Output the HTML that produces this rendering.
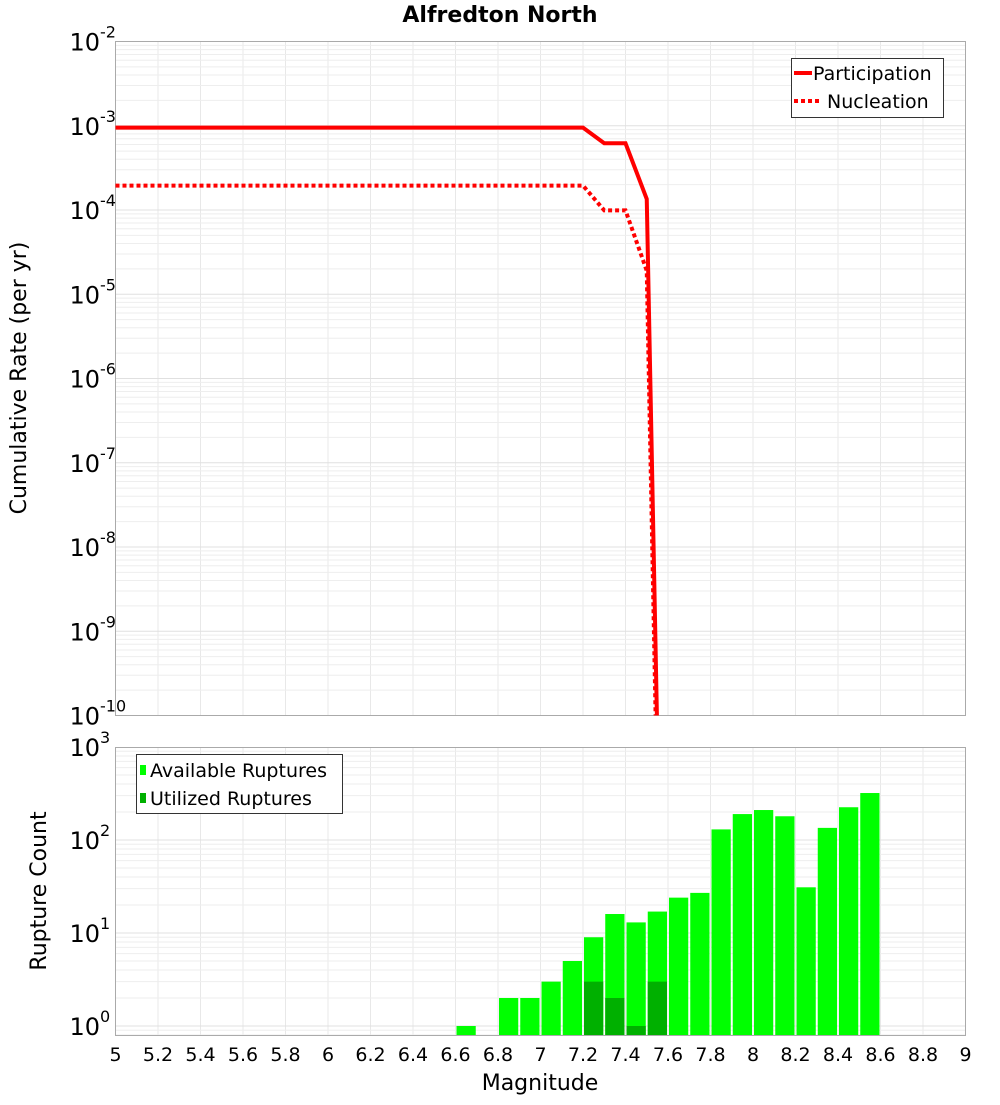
<!DOCTYPE html>
<html><head><meta charset="utf-8"><style>
body{margin:0;background:#fff;width:1000px;height:1100px;overflow:hidden}
svg{font-family:"DejaVu Sans","Liberation Sans",sans-serif}
</style></head><body>
<svg id="chart" width="1000" height="1100" xmlns="http://www.w3.org/2000/svg">
<text x="500" y="22" text-anchor="middle" font-size="22" font-weight="bold">Alfredton North</text>
<text transform="translate(26,378) rotate(-90)" text-anchor="middle" font-size="22">Cumulative Rate (per yr)</text>
<text transform="translate(46,891) rotate(-90)" text-anchor="middle" font-size="22">Rupture Count</text>
<text x="540" y="1090" text-anchor="middle" font-size="22">Magnitude</text>
<g id="topg"></g><g id="botg"></g>
</svg>
<script>
const xTicks=[5,5.2,5.4,5.6,5.8,6,6.2,6.4,6.6,6.8,7,7.2,7.4,7.6,7.8,8,8.2,8.4,8.6,8.8,9];
const partMag=[5.0,7.2,7.3,7.4,7.5,7.6];
const partRate=[9.5e-4,9.5e-4,6.2e-4,6.2e-4,1.35e-4,2e-17];
const nuclMag=[5.0,7.2,7.3,7.4,7.5,7.6];
const nuclRate=[1.95e-4,1.95e-4,9.9e-5,9.9e-5,1.9e-5,4e-18];
const barMag=[6.6,6.8,6.9,7.0,7.1,7.2,7.3,7.4,7.5,7.6,7.7,7.8,7.9,8.0,8.1,8.2,8.3,8.4,8.5];
const availCount=[1,2,2,3,5,9,16,13,17,24,27,130,190,210,180,31,135,225,320];
const usedMag=[7.2,7.3,7.4,7.5];
const usedCount=[3,2,1,3];
const topDecades=[-10,-9,-8,-7,-6,-5,-4,-3,-2];
const botDecades=[0,1,2,3];

const NS='http://www.w3.org/2000/svg';
const X0=115.5,X1=965.5;
const xs=m=>X0+(m-5)/4*(X1-X0);
const tyTop=41.5,tyBot=715.5;
const ty=v=>tyTop+(-2-Math.log10(v))*(tyBot-tyTop)/8;
const byTop=747.5,byBot=1035.5;
const by=v=>1026-Math.log10(v)*93;
function el(p,t,a){const e=document.createElementNS(NS,t);for(const k in a)e.setAttribute(k,a[k]);p.appendChild(e);return e;}
const topG=document.getElementById('topg'),botG=document.getElementById('botg');

function grid(g,yT,yB,decs,yf,lo){
  for(const x of xTicks){const l=el(g,'line',{x1:xs(x),x2:xs(x),y1:yT,y2:yB,stroke:'#e8e8e8'});
  
  }
  for(let i=0;i<decs.length;i++){const d=decs[i];
    for(let k=1;k<10;k++){const y=yf(k*Math.pow(10,d));if(y<yT-0.5||y>yB+0.5)continue;
      const l=el(g,'line',{x1:X0,x2:X1,y1:y,y2:y,stroke:k==1?'#e0e0e0':'#eeeeee'});
      
      }
  }
}
function ylabel(g,d,y){
  const t=el(g,'text',{x:100,y:y+9,'text-anchor':'end','font-size':24});
  
  
  t.textContent='10';
  const s=el(g,'text',{x:100,y:y-4,'font-size':16});
  
  
  s.textContent=String(d);
}
// top plot
grid(topG,tyTop,tyBot,topDecades,ty,-10);
let r=el(topG,'rect',{x:X0,y:tyTop,width:X1-X0,height:tyBot-tyTop,fill:'none',stroke:'#aaa'});


for(const d of topDecades)ylabel(topG,d,ty(Math.pow(10,d)));
const cp=el(topG,'clipPath',{id:'cp'});el(cp,'rect',{x:X0,y:tyTop,width:X1-X0,height:tyBot-tyTop});
const pp=partMag.map((m,i)=>xs(m)+','+ty(partRate[i])).join(' ');
const pl=el(topG,'polyline',{points:pp,fill:'none',stroke:'#ff0000','stroke-width':4,'clip-path':'url(#cp)'});


const np=nuclMag.map((m,i)=>xs(m)+','+ty(nuclRate[i])).join(' ');
const nl=el(topG,'polyline',{points:np,fill:'none',stroke:'#ff0000','stroke-width':4,'stroke-dasharray':'4 3','clip-path':'url(#cp)'});


// top legend
const lg=el(topG,'g',{});


el(lg,'rect',{x:791.5,y:58.5,width:152,height:59,fill:'#fff',stroke:'#333'});
el(lg,'line',{x1:794,x2:812,y1:73,y2:73,stroke:'#f00','stroke-width':4});
el(lg,'line',{x1:794,x2:822,y1:101,y2:101,stroke:'#f00','stroke-width':4,'stroke-dasharray':'4 3'});
let t1=el(lg,'text',{x:813,y:80,'font-size':19});t1.textContent='Participation';


let t2=el(lg,'text',{x:827,y:108,'font-size':19});t2.textContent='Nucleation';



// bottom plot
grid(botG,byTop,byBot,[-1,0,1,2],by,-1);
for(const d of botDecades)ylabel(botG,d,by(Math.pow(10,d)));
const base=byBot;
barMag.forEach((m,i)=>{const y=by(availCount[i]);
  const b=el(botG,'rect',{x:xs(m)+1,y:y,width:xs(m+0.1)-xs(m)-2,height:base-y,fill:'#00ff00'});
  
  });
usedMag.forEach((m,i)=>{const y=by(usedCount[i]);
  const b=el(botG,'rect',{x:xs(m)+1,y:y,width:xs(m+0.1)-xs(m)-2,height:base-y,fill:'#00b000'});
  
  });
r=el(botG,'rect',{x:X0,y:byTop,width:X1-X0,height:byBot-byTop,fill:'none',stroke:'#aaa'});


for(const x of xTicks){const t=el(botG,'text',{x:xs(x),y:1061,'text-anchor':'middle','font-size':19});
  
  
  t.textContent=String(x);}
const lb=el(botG,'g',{});


el(lb,'rect',{x:136.5,y:754.5,width:206,height:59,fill:'#fff',stroke:'#333'});
el(lb,'rect',{x:140,y:765,width:6,height:10,fill:'#00ff00'});
el(lb,'rect',{x:140,y:793,width:6,height:10,fill:'#00b000'});
t1=el(lb,'text',{x:150,y:777,'font-size':19});t1.textContent='Available Ruptures';


t2=el(lb,'text',{x:150,y:805,'font-size':19});t2.textContent='Utilized Ruptures';


</script>
</body></html>
